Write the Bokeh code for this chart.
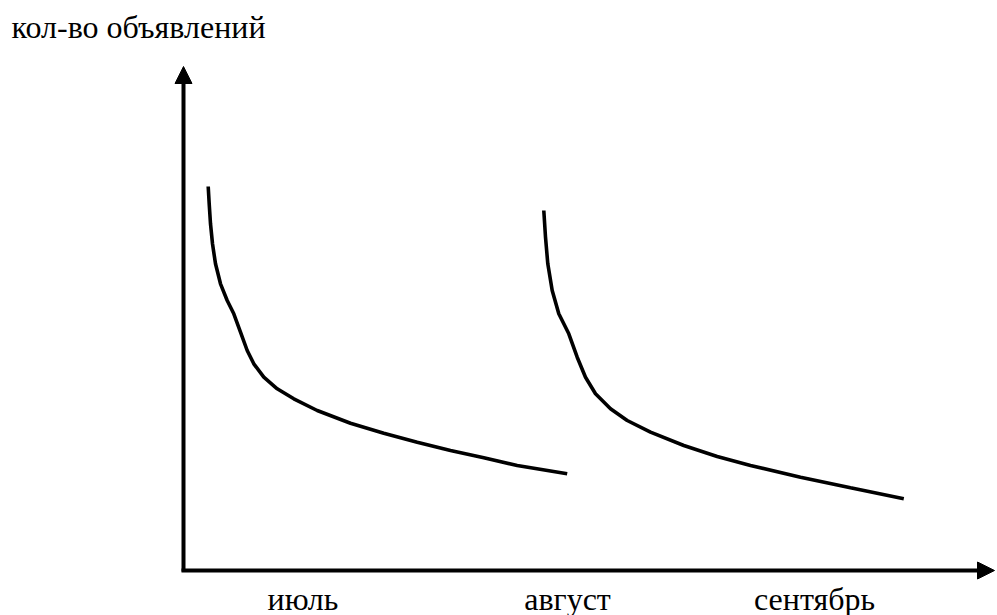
from bokeh.plotting import figure
from bokeh.models import Range1d, Arrow, NormalHead
from bokeh.core.properties import value
from bokeh.embed import file_html
from bokeh.resources import INLINE

# ---- data ----
july_x = [24.7, 25.7, 27, 29, 32, 37, 43.7, 50.3, 57, 63.7, 70.3, 80.3, 93.7, 110.3,
          133.7, 167, 200.3, 233.7, 267, 300.3, 333.7, 383.7]
july_y = [383, 365.7, 345.7, 325.7, 305.7, 285.7, 269, 255.7, 237.3, 219, 205.7, 192.3,
          180.7, 170.7, 159, 146.3, 136.3, 127.3, 119, 111.7, 104, 95.7]

aug_x = [360.3, 362, 364.3, 368.7, 375.3, 385.3, 393.7, 402, 412, 427, 443.7, 467,
         500.3, 533.7, 567, 617, 667, 720.3]
aug_y = [359, 332.3, 305.7, 279, 255.7, 235.7, 212.3, 192.3, 175.7, 160.7, 149, 137.3,
         124, 113, 104, 92.3, 81.7, 70.7]

month_labels = ["июль", "август", "сентябрь"]
month_pos = [119.5, 384, 631]

y_title = "кол-во объявлений"

x_axis_end = 811
y_axis_end = 503

p = figure(width=997, height=615, output_backend="svg", toolbar_location=None,
           x_range=Range1d(-183, 814), y_range=Range1d(-46, 569), min_border=0)
p.axis.visible = False
p.grid.visible = False
p.outline_line_alpha = 0

# curves
p.line(july_x, july_y, line_color="black", line_width=3.6)
p.line(aug_x, aug_y, line_color="black", line_width=3.6)

# axes with arrows
p.add_layout(Arrow(x_start=0, y_start=-2, x_end=0, y_end=y_axis_end,
                   line_width=4, line_color="black",
                   end=NormalHead(size=17, fill_color="black", line_color="black", line_width=1)))
p.add_layout(Arrow(x_start=-2, y_start=-1, x_end=x_axis_end, y_end=-1,
                   line_width=4, line_color="black",
                   end=NormalHead(size=17, fill_color="black", line_color="black", line_width=1)))

# texts
p.text(x=[-172], y=[542.5], text=[y_title], text_font=value("Liberation Serif"),
       text_font_size="32px", text_baseline="middle")
p.text(x=month_pos, y=[-29] * len(month_pos), text=month_labels,
       text_font=value("Liberation Serif"), text_font_size="32px",
       text_baseline="middle", text_align="center")

open("out.html", "w").write(file_html(p, INLINE))
